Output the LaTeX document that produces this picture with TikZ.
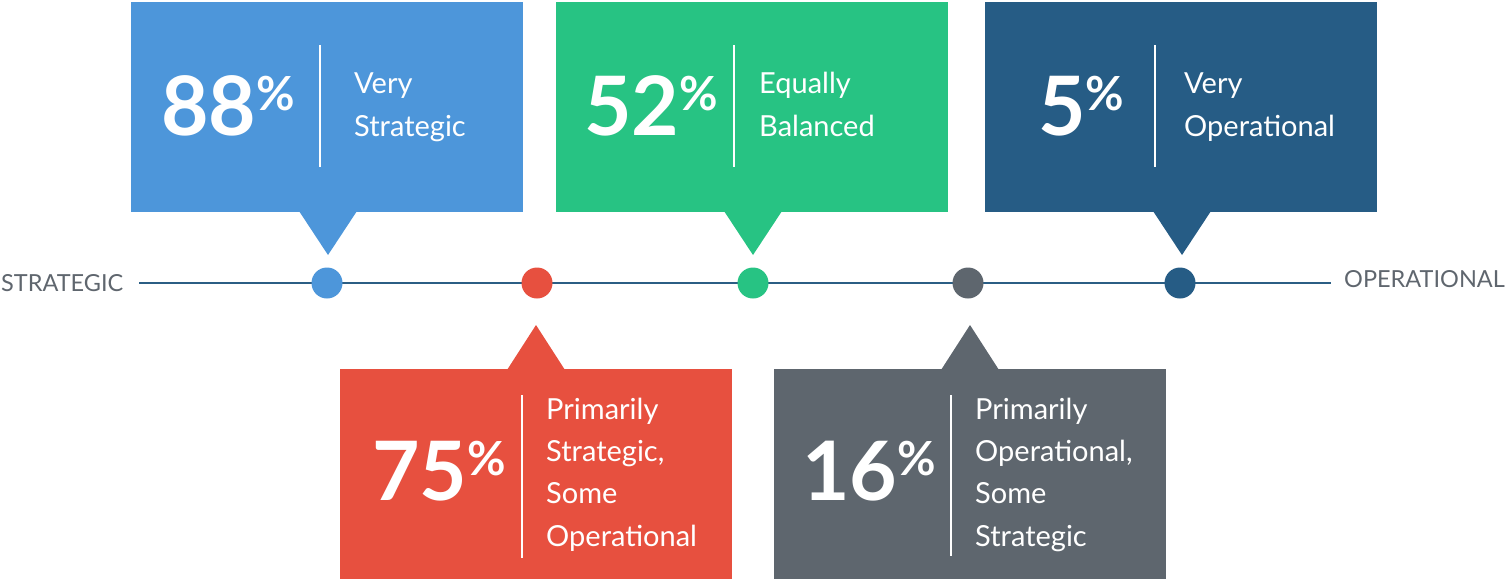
\documentclass[tikz,border=0pt]{standalone}
\usepackage{fontspec}
\setmainfont{Lato}
\usetikzlibrary{calc}

\definecolor{cBlue}{HTML}{4D96DA}
\definecolor{cGreen}{HTML}{27C383}
\definecolor{cNavy}{HTML}{265C85}
\definecolor{cRed}{HTML}{E7503F}
\definecolor{cGray}{HTML}{5E666E}
\definecolor{cAxis}{HTML}{2B5E84}
\definecolor{cLabel}{HTML}{5F666E}

\tikzset{
  callbox/.style={rectangle, inner sep=0pt, minimum width=392pt, minimum height=210pt, anchor=north west},
  dot/.style={circle, inner sep=0pt, minimum size=31pt},
  axis/.style={draw=cAxis, line width=2.8pt},
  divider/.style={draw=white, line width=2.4pt},
  bignum/.style={anchor=base west, inner sep=0pt, text=white, font=\fontsize{82}{82}\selectfont\bfseries},
  desc/.style={anchor=base west, inner sep=0pt, text=white, font=\fontsize{29}{29}\selectfont},
  endlabel/.style={anchor=base west, inner sep=0pt, text=cLabel, font=\fontsize{23.5}{23.5}\selectfont},
}
\newcommand{\pct}{{\fontsize{47}{47}\selectfont\bfseries\raisebox{25pt}{\%}}}

\begin{document}
\begin{tikzpicture}[x=1pt, y=-1pt]
\useasboundingbox (0,0) rectangle (1507,579);

% timeline
\node[endlabel] (lstrat) at (1,291) {STRATEGIC};
\node[endlabel] (lop) at (1344,287) {OPERATIONAL};
\coordinate (axisL) at (139,283);
\coordinate (axisR) at (1331,283);
\draw[axis] (axisL) -- (axisR);

\node[dot, fill=cBlue]  (d1) at (327,283) {};
\node[dot, fill=cRed]   (d2) at (537,283) {};
\node[dot, fill=cGreen] (d3) at (753,283) {};
\node[dot, fill=cGray]  (d4) at (968,283) {};
\node[dot, fill=cNavy]  (d5) at (1180,283) {};

% upper callouts
\node[callbox, fill=cBlue]  (b1) at (131,2) {};
\fill[cBlue] (299,211) -- (357,211) -- (328,255) -- cycle;
\node[callbox, fill=cGreen] (b3) at (556,2) {};
\fill[cGreen] (724,211) -- (782,211) -- (753,255) -- cycle;
\node[callbox, fill=cNavy]  (b5) at (985,2) {};
\fill[cNavy] (1153,211) -- (1211,211) -- (1182,255) -- cycle;

% lower callouts
\node[callbox, fill=cRed]  (b2) at (340,369) {};
\fill[cRed] (507,370) -- (565,370) -- (536,325) -- cycle;
\node[callbox, fill=cGray] (b4) at (774,369) {};
\fill[cGray] (941,370) -- (999,370) -- (970,325) -- cycle;

% dividers
\draw[divider] (320,45) -- (320,167);
\draw[divider] (734,45) -- (734,167);
\draw[divider] (1155,45) -- (1155,167);
\draw[divider] (522,395) -- (522,558);
\draw[divider] (951,395) -- (951,556);

% figures
\node[bignum] (n1) at (161,135) {88\pct};
\node[bignum] (n3) at (584,135) {52\pct};
\node[bignum] (n5) at (1038,135) {5\pct};
\node[bignum] (n2) at (372,500) {75\pct};
\node[bignum] (n4) at (802,500) {16\pct};

% descriptions
\node[desc] (t1a) at (354,93)  {Very};
\node[desc] (t1b) at (354,136) {Strategic};
\node[desc] (t3a) at (759,93)  {Equally};
\node[desc] (t3b) at (759,136) {Balanced};
\node[desc] (t5a) at (1184,93)  {Very};
\node[desc] (t5b) at (1184,136) {Operational};
\node[desc] (t2a) at (546,419) {Primarily};
\node[desc] (t2b) at (546,461) {Strategic,};
\node[desc] (t2c) at (546,503) {Some};
\node[desc] (t2d) at (546,546) {Operational};
\node[desc] (t4a) at (975,419) {Primarily};
\node[desc] (t4b) at (975,461) {Operational,};
\node[desc] (t4c) at (975,503) {Some};
\node[desc] (t4d) at (975,546) {Strategic};
\end{tikzpicture}
\end{document}
